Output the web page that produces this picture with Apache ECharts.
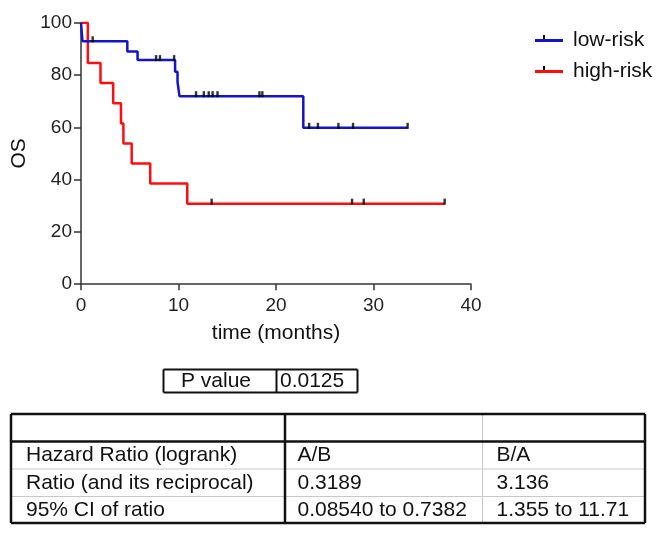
<!DOCTYPE html>
<html>
<head>
<meta charset="utf-8">
<script src="https://cdn.jsdelivr.net/npm/echarts@6/dist/echarts.min.js"></script>
<style>
html,body{margin:0;padding:0;background:#fff;}
#chart{width:665px;height:534px;}
</style>
</head>
<body>
<div id="chart"></div>
<script>
// ---- data ----
const xTicks = [0, 10, 20, 30, 40];
const yTicks = [0, 20, 40, 60, 80, 100];
const lowRiskCurve = [[0,100],[0.15,92.9],[4.75,89.0],[5.8,85.7],[9.65,81.2],[9.9,77.4],[10.1,71.9],[22.8,59.8],[33.5,59.8]];
const highRiskCurve = [[0,100],[0.7,84.6],[2.0,76.9],[3.3,69.2],[4.1,61.5],[4.35,53.8],[5.2,46.2],[7.1,38.5],[10.9,30.8],[37.3,30.8]];
const lowRiskCensored = [1.2, 7.7, 8.1, 9.55, 11.8, 12.6, 13.1, 13.5, 14.0, 18.3, 18.6, 23.4, 24.3, 26.4, 27.9, 33.5];
const highRiskCensored = [13.4, 27.8, 29.0, 37.3];
const seriesNames = ['low-risk', 'high-risk'];
const pTableRow = ['P value', '0.0125'];
const hrHeader = ['', '', ''];
const hrRows = [
  ['Hazard Ratio (logrank)', 'A/B', 'B/A'],
  ['Ratio (and its reciprocal)', '0.3189', '3.136'],
  ['95% CI of ratio', '0.08540 to 0.7382', '1.355 to 11.71']
];

// ---- helpers ----
function survAt(curve, t) {
  let y = curve[0][1];
  for (const p of curve) { if (p[0] <= t) y = p[1]; }
  return y;
}
const FONT = 'Liberation Sans, Arial, sans-serif';
const BLUE = '#1414c8';
const RED = '#ff0d0d';

const chart = echarts.init(document.getElementById('chart'));

// tables (graphic elements)
const g = [];
function line(x1,y1,x2,y2,w,c){ g.push({type:'line',shape:{x1,y1,x2,y2},style:{stroke:c,lineWidth:w},silent:true}); }
function text(x,y,t){ g.push({type:'text',x,y,style:{text:t,font:'21px '+FONT,fill:'#111',verticalAlign:'middle',align:'left'},silent:true}); }

// P value table
const pL=163.5, pR=357.5, pT=369.5, pB=392.5, pD=276.5;
line(pL,pT,pR,pT,2,'#111'); line(pL,pB,pR,pB,2,'#111');
line(pL,pT,pL,pB,2,'#111'); line(pR,pT,pR,pB,2,'#111'); line(pD,pT,pD,pB,2,'#111');
text(181, 381.5, pTableRow[0]);
text(280, 381.5, pTableRow[1]);

// Hazard table
const tL=11, tR=645, tT=414, tH=441.5, rowYs=[441.5,469,496.5,523], c1=285, c2=482.5;
const colX=[26, 297.5, 496.5];
line(tL,469,tR,469,1,'#c8c8c8'); line(tL,496.5,tR,496.5,1,'#c8c8c8');
line(c2,tT,c2,523,1,'#c8c8c8');
line(tL,tT,tR,tT,2.5,'#111'); line(tL,523,tR,523,2.5,'#111');
line(tL,tH,tR,tH,2.5,'#111');
line(tL,tT,tL,523,2.5,'#111'); line(tR,tT,tR,523,2.5,'#111');
line(c1,tT,c1,523,2.5,'#111');
hrHeader.forEach((h,i)=>{ if(h) text(colX[i], (tT+tH)/2+1, h); });
hrRows.forEach((r,ri)=>{
  const cy=(rowYs[ri]+rowYs[ri+1])/2;
  r.forEach((v,ci)=>text(colX[ci], cy, v));
});
// legend tick marks
line(544,35,544,40,2,'#000');
line(544,66,544,71,2,'#000');

const option = {
  animation:false,
  backgroundColor:'#fff',
  textStyle:{fontFamily:FONT},
  grid:{left:81, top:22.7, width:390, height:261.5, containLabel:false},
  legend:{
    orient:'vertical', left:530, top:25, itemWidth:28, itemHeight:3, itemGap:10,
    icon:'rect',
    data:seriesNames,
    textStyle:{fontSize:21, color:'#111', fontFamily:FONT, padding:[0,0,0,5]}
  },
  xAxis:{
    type:'value', min:xTicks[0], max:xTicks[xTicks.length-1], interval:10,
    name:'time (months)', nameLocation:'middle', nameGap:39,
    nameTextStyle:{fontSize:21, color:'#111', fontFamily:FONT},
    axisLine:{lineStyle:{color:'#333', width:1.5}},
    axisTick:{show:true, inside:false, length:6, lineStyle:{color:'#333', width:1.5}},
    axisLabel:{fontSize:19, color:'#222', margin:12, fontFamily:FONT},
    splitLine:{show:false}
  },
  yAxis:{
    type:'value', min:yTicks[0], max:yTicks[yTicks.length-1], interval:20,
    name:'OS', nameLocation:'middle', nameGap:44, nameRotate:90,
    nameTextStyle:{fontSize:21, color:'#111', fontFamily:FONT},
    axisLine:{show:true, lineStyle:{color:'#333', width:1.5}},
    axisTick:{show:true, inside:false, length:7, lineStyle:{color:'#333', width:1.5}},
    axisLabel:{fontSize:19, color:'#222', margin:9, fontFamily:FONT},
    splitLine:{show:false}
  },
  series:[
    {name:seriesNames[0], type:'line', step:'end', data:lowRiskCurve, showSymbol:false, symbol:'none',
     lineStyle:{color:BLUE, width:2.5}, itemStyle:{color:BLUE}, z:3},
    {name:seriesNames[1], type:'line', step:'end', data:highRiskCurve, showSymbol:false, symbol:'none',
     lineStyle:{color:RED, width:2.5}, itemStyle:{color:RED}, z:2},
    {name:'low-risk censored', type:'scatter', data:lowRiskCensored.map(t=>[t, survAt(lowRiskCurve,t)]),
     symbol:'rect', symbolSize:[2.4,6], symbolOffset:[0,-2], itemStyle:{color:'#000'}, z:5},
    {name:'high-risk censored', type:'scatter', data:highRiskCensored.map(t=>[t, survAt(highRiskCurve,t)]),
     symbol:'rect', symbolSize:[2.4,6], symbolOffset:[0,-2], itemStyle:{color:'#000'}, z:5}
  ],
  graphic:g
};
chart.setOption(option);
</script>
</body>
</html>
